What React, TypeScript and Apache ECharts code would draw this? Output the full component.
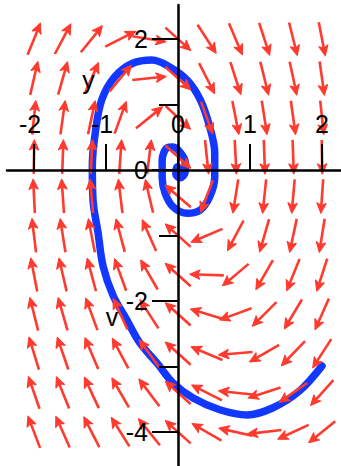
import { useEffect, useRef } from "react";
import * as echarts from "echarts";

// ---- data ----
const colX = [-2, -1.6, -1.2, -0.8, -0.4, 0, 0.4, 0.8, 1.2, 1.6, 2];
const rowY = [2, 1.4, 0.8, 0.2, -0.4, -1, -1.6, -2.2, -2.8, -3.4, -4];
// arrow direction on screen, degrees counter-clockwise from east, one row per rowY
const arrowAngles = [
  [68, 62, 51, 27, -9, -42, -57, -67, -72, -76, -79],
  [77, 74, 66, 50, 6, -42, -63, -72, -76, -78, -82],
  [84, 82, 78, 70, 39, -43, -70, -79, -81, -82, -84],
  [89, 88, 87, 86, 83, -42, -84, -87, -88, -88, -89],
  [93, 94, 95, 97, 103, 139, -111, -99, -96, -95, -94],
  [97, 99, 101, 105, 114, 138, -157, -118, -106, -102, -99],
  [101, 103, 105, 110, 120, 138, 178, -140, -120, -112, -108],
  [104, 106, 110, 115, 123, 138, 163, -160, -135, -121, -114],
  [107, 109, 113, 118, 126, 138, 157, -175, -150, -134, -123],
  [109, 112, 115, 120, 127, 138, 153, 174, -162, -145, -132],
  [111, 114, 117, 122, 129, 138, 150, 167, -173, -155, -141],
];
const curveX = [
  2.0, 1.69, 1.32, 0.96, 0.58, 0.21, -0.07, -0.29, -0.53, -0.71, -0.9, -1.04, -1.11, -1.18,
  -1.19, -1.15, -1.06, -0.88, -0.63, -0.36, -0.11, 0.13, 0.31, 0.44, 0.51, 0.51, 0.44, 0.31,
  0.13, -0.07, -0.18, -0.22, -0.22, -0.15, -0.07, 0.03, 0.1, 0.1, 0.03, -0.03, -0.01, 0.03,
];
const curveY = [
  -2.99, -3.37, -3.63, -3.74, -3.66, -3.48, -3.25, -2.95, -2.64, -2.29, -1.92, -1.47, -0.96,
  -0.46, 0.05, 0.56, 1.07, 1.42, 1.63, 1.68, 1.57, 1.37, 1.07, 0.66, 0.26, -0.11, -0.41, -0.61,
  -0.66, -0.56, -0.35, -0.11, 0.15, 0.34, 0.35, 0.27, 0.12, -0.03, -0.12, -0.06, 0.05, 0.0,
];
const xTickValues = [-2, -1, 0, 1, 2];
const yMajorTicks = [-4, -2, 0, 2];
const yMinorTicks = [-3, -1, 1];
const axisNames = ["y", "v"];

// ---- layout / style ----
const W = 341;
const H = 466;
const GRID = { left: 7, top: 5, right: 0, bottom: 0 };
const X_MIN = -2.375;
const X_MAX = 2.2639;
const Y_MIN = -4.519;
const Y_MAX = 2.519;
const RED = "#ff3a2e";
const BLUE = "#1238ff";
const FONT = "'Liberation Sans', Arial, Helvetica, sans-serif";
const FS = 25;
const ARROW_LEN = 34;

export default function App() {
  const ref = useRef<HTMLDivElement>(null);

  useEffect(() => {
    if (!ref.current) return;
    const chart = echarts.init(ref.current, null, { renderer: "svg" });

    const gw = W - GRID.left - GRID.right;
    const gh = H - GRID.top - GRID.bottom;
    const zeroX = GRID.left + ((0 - X_MIN) / (X_MAX - X_MIN)) * gw;
    const zeroY = GRID.top + ((Y_MAX - 0) / (Y_MAX - Y_MIN)) * gh;

    const arrowData: number[][] = [];
    rowY.forEach((y, r) => {
      colX.forEach((x, c) => {
        arrowData.push([x, y, arrowAngles[r][c]]);
      });
    });

    const labelFmt = (v: number | string) => {
      const n = Number(v);
      return n < 0 ? `{n|${n}}` : `{p|${n}}`;
    };
    const richLabel = {
      n: { fontSize: FS, fontFamily: FONT, color: "#000", padding: [0, 8, 0, 0] },
      p: { fontSize: FS, fontFamily: FONT, color: "#000" },
    };

    chart.setOption({
      animation: false,
      backgroundColor: "#fff",
      grid: { ...GRID, containLabel: false },
      xAxis: {
        type: "value",
        min: X_MIN,
        max: X_MAX,
        position: "bottom",
        offset: -(H - GRID.bottom - zeroY),
        z: 10,
        axisLine: { show: true, onZero: false, lineStyle: { color: "#000", width: 2.5 } },
        axisTick: {
          show: true,
          inside: true,
          length: 26,
          customValues: xTickValues,
          lineStyle: { color: "#000", width: 2 },
        },
        axisLabel: {
          show: true,
          inside: true,
          margin: 33,
          customValues: xTickValues,
          formatter: labelFmt,
          rich: richLabel,
          fontSize: FS,
          fontFamily: FONT,
          color: "#000",
        },
        splitLine: { show: false },
      },
      yAxis: [
        {
          type: "value",
          min: Y_MIN,
          max: Y_MAX,
          position: "left",
          offset: -(zeroX - GRID.left),
          z: 10,
          axisLine: { show: true, onZero: false, lineStyle: { color: "#000", width: 2.5 } },
          axisTick: {
            show: true,
            length: 26,
            customValues: yMajorTicks,
            lineStyle: { color: "#000", width: 2 },
          },
          axisLabel: {
            show: true,
            margin: 30,
            customValues: yMajorTicks,
            fontSize: FS,
            fontFamily: FONT,
            color: "#000",
          },
          splitLine: { show: false },
        },
        {
          type: "value",
          min: Y_MIN,
          max: Y_MAX,
          position: "right",
          offset: -(W - GRID.right - zeroX),
          z: 10,
          axisLine: { show: false, onZero: false },
          axisTick: {
            show: true,
            inside: true,
            length: 19,
            customValues: yMinorTicks,
            lineStyle: { color: "#000", width: 2 },
          },
          axisLabel: { show: false },
          splitLine: { show: false },
        },
      ],
      graphic: [
        {
          type: "text",
          x: 88.5,
          y: 79.5,
          z: 20,
          style: {
            text: axisNames[0],
            fontSize: FS,
            fontFamily: FONT,
            fill: "#000",
            align: "center",
            verticalAlign: "middle",
          },
        },
        {
          type: "text",
          x: 112,
          y: 316.5,
          z: 20,
          style: {
            text: axisNames[1],
            fontSize: FS,
            fontFamily: FONT,
            fill: "#000",
            align: "center",
            verticalAlign: "middle",
          },
        },
      ],
      series: [
        {
          type: "line",
          xAxisIndex: 0,
          yAxisIndex: 0,
          z: 2,
          data: curveX.map((x, i) => [x, curveY[i]]),
          showSymbol: false,
          symbol: "none",
          smooth: 0.35,
          clip: false,
          lineStyle: { color: BLUE, width: 7.5, cap: "round", join: "round" },
        },
        {
          type: "custom",
          xAxisIndex: 0,
          yAxisIndex: 0,
          z: 3,
          data: arrowData,
          encode: { x: 0, y: 1 },
          renderItem: (_params: any, api: any) => {
            const c = api.coord([api.value(0), api.value(1)]);
            const a = (api.value(2) * Math.PI) / 180;
            const dx = Math.cos(a);
            const dy = -Math.sin(a);
            const h = ARROW_LEN / 2;
            const tail = [c[0] - dx * h, c[1] - dy * h];
            const tip = [c[0] + dx * h, c[1] + dy * h];
            const hl = 10;
            const hw = 4.6;
            const px = -dy;
            const py = dx;
            const base = [tip[0] - dx * hl, tip[1] - dy * hl];
            const notch = [tip[0] - dx * (hl - 2.5), tip[1] - dy * (hl - 2.5)];
            return {
              type: "group",
              children: [
                {
                  type: "line",
                  shape: { x1: tail[0], y1: tail[1], x2: notch[0], y2: notch[1] },
                  style: { stroke: RED, lineWidth: 2.6 },
                },
                {
                  type: "polygon",
                  shape: {
                    points: [
                      tip,
                      [base[0] + px * hw, base[1] + py * hw],
                      notch,
                      [base[0] - px * hw, base[1] - py * hw],
                    ],
                  },
                  style: { fill: RED, stroke: RED, lineWidth: 1.2, lineJoin: "round" },
                },
              ],
            };
          },
        },
      ],
    });

    return () => chart.dispose();
  }, []);

  return (
    <div
      ref={ref}
      style={{ position: "fixed", left: 0, top: 0, width: W, height: H, background: "#fff" }}
    />
  );
}
